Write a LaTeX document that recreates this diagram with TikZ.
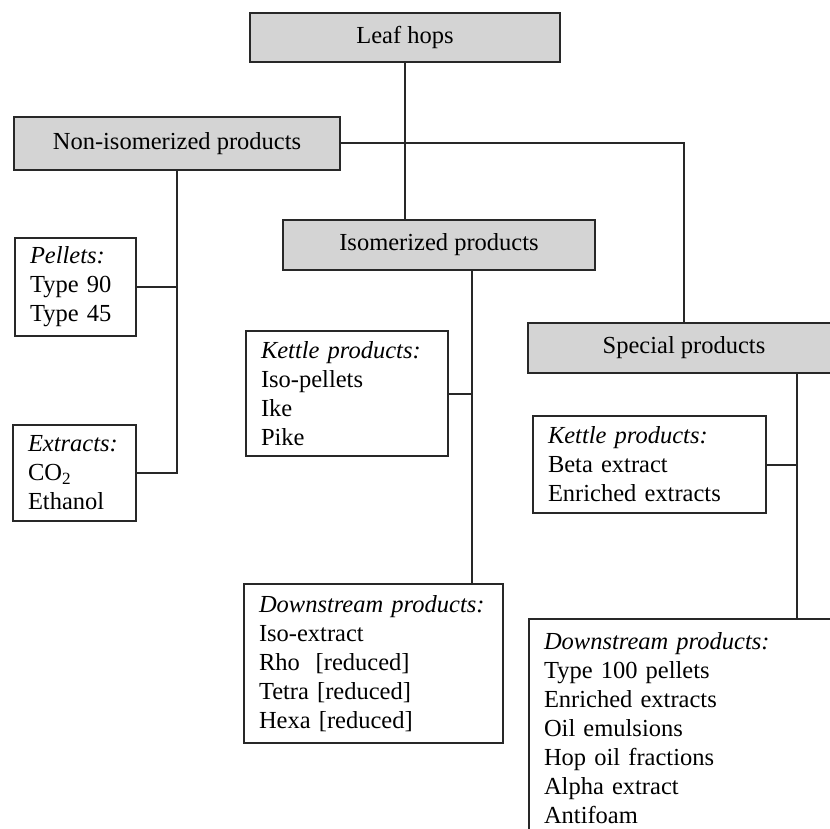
\documentclass[tikz,border=0pt]{standalone}
\usepackage{fontspec}
\setmainfont{Liberation Serif}
\definecolor{hopgray}{RGB}{212,212,212}
\definecolor{hopline}{RGB}{40,40,40}
\begin{document}
\begin{tikzpicture}[x=1pt,y=-1pt]
  \tikzset{
    hopfont/.style={font=\fontsize{24.5}{29}\selectfont},
    groupbox/.style={draw=hopline,line width=2pt,fill=hopgray,hopfont,inner sep=0pt},
    itembox/.style={draw=hopline,line width=2pt,fill=white,hopfont,align=left,
      anchor=north west,inner xsep=15pt,inner ysep=6pt},
    hoplink/.style={draw=hopline,line width=2pt},
  }
  \useasboundingbox (0,0) rectangle (830,829);
  \clip (0,0) rectangle (830,829);
  \node[groupbox,minimum width=310pt,minimum height=49pt] (leaf) at (405,37.5) {Leaf hops};
  \node[groupbox,minimum width=326pt,minimum height=53pt] (noniso) at (177,143.5) {Non-isomerized products};
  \node[groupbox,minimum width=312pt,minimum height=50pt] (iso) at (439,245) {Isomerized products};
  \node[groupbox,minimum width=312pt,minimum height=50pt] (special) at (684,348) {Special products};
  \node[itembox,text width=91pt,minimum height=98pt] (pellets) at (14,237)
    {\textit{Pellets:}\\Type 90\\Type 45};
  \node[itembox,text width=93pt,minimum height=96pt] (extracts) at (12,424)
    {\textit{Extracts:}\\CO\textsubscript{2}\\Ethanol};
  \node[itembox,text width=172pt,minimum height=125pt] (isokettle) at (245,330)
    {\textit{Kettle products:}\\Iso-pellets\\Ike\\Pike};
  \node[itembox,text width=229pt,minimum height=159pt] (isodown) at (243,583)
    {\textit{Downstream products:}\\Iso-extract\\Rho\hspace{0.65em}[reduced]\\Tetra [reduced]\\Hexa [reduced]};
  \node[itembox,text width=203pt,minimum height=97pt] (spkettle) at (532,415)
    {\textit{Kettle products:}\\Beta extract\\Enriched extracts};
  \node[itembox,text width=282pt,inner ysep=13pt] (spdown) at (528,618)
    {\textit{Downstream products:}\\Type 100 pellets\\Enriched extracts\\Oil emulsions\\Hop oil fractions\\Alpha extract\\Antifoam};
  \coordinate (isotrunk) at (472,583);
  \coordinate (sptrunk) at (797,618);
  \draw[hoplink] (leaf) -- (leaf.south |- iso.north);
  \draw[hoplink] (noniso) -| (special);
  \draw[hoplink] (pellets) -| (noniso);
  \draw[hoplink] (extracts) -| (noniso);
  \draw[hoplink] (iso.south -| isotrunk) -- (isotrunk);
  \draw[hoplink] (isokettle) -| (isotrunk);
  \draw[hoplink] (special.south -| sptrunk) -- (sptrunk);
  \draw[hoplink] (spkettle) -| (sptrunk);
\end{tikzpicture}
\end{document}
